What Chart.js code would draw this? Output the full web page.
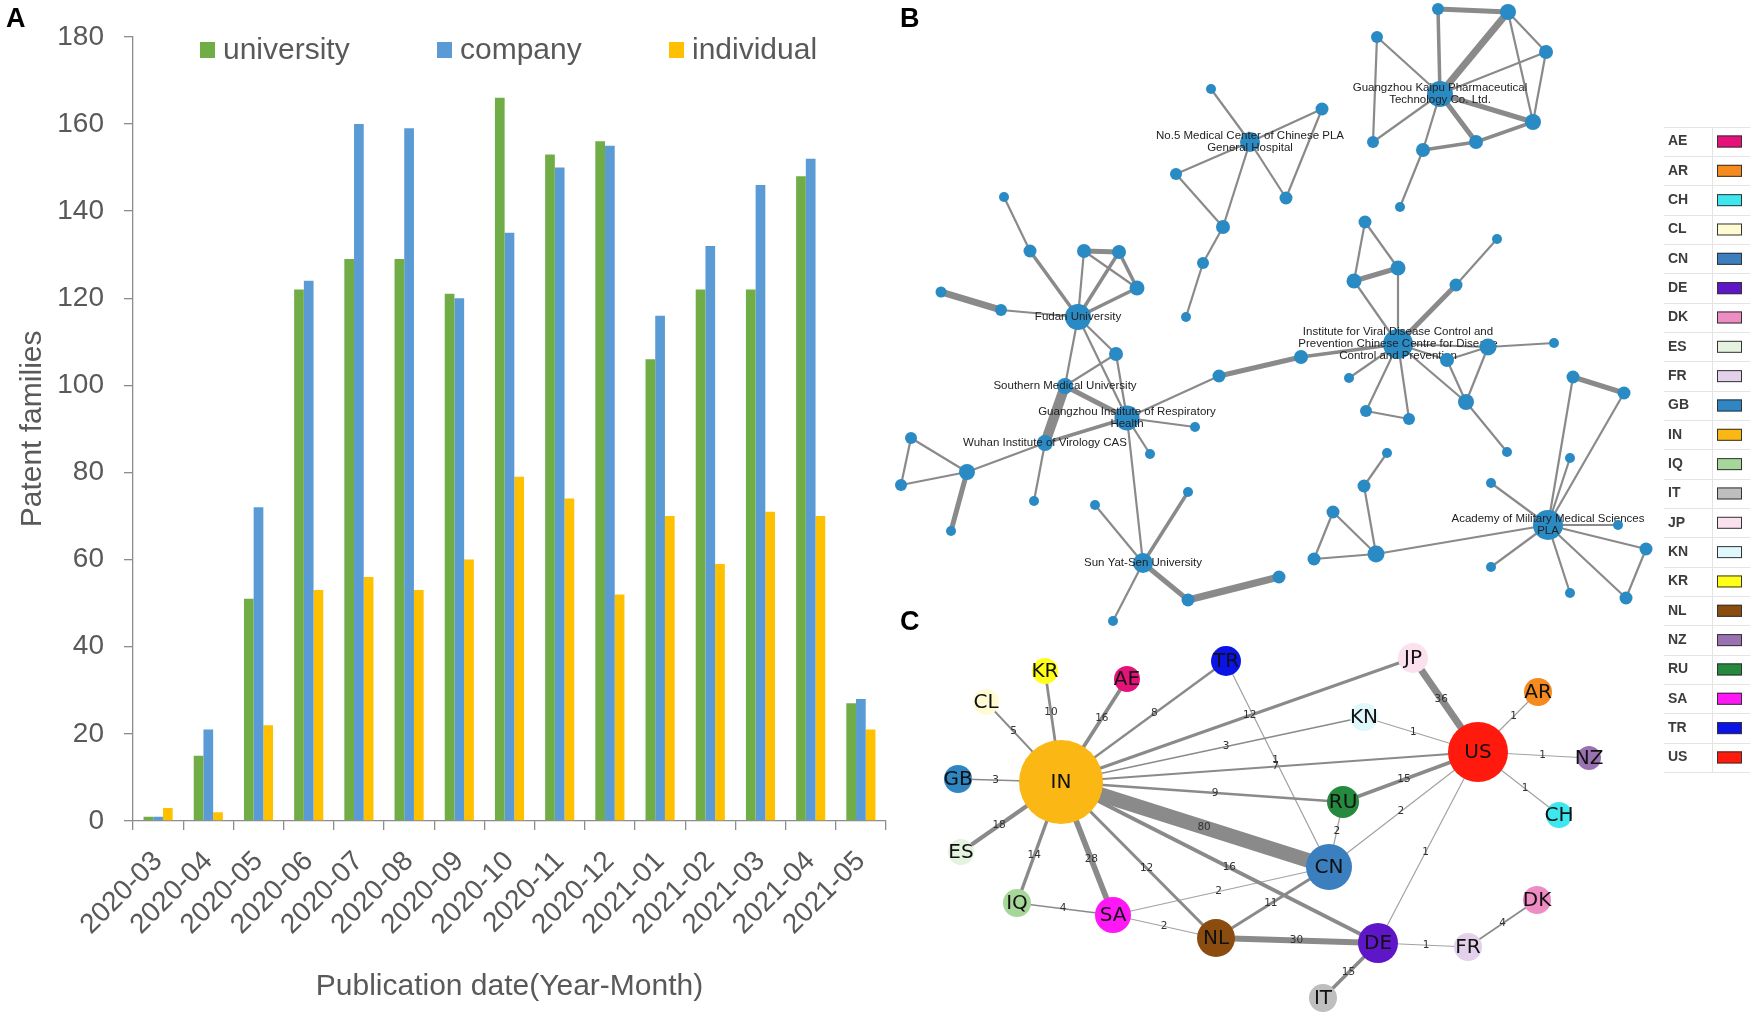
<!DOCTYPE html>
<html>
<head>
<meta charset="utf-8">
<script src="https://cdn.jsdelivr.net/npm/chart.js@4.4.1/dist/chart.umd.min.js"></script>
<style>
  html, body { margin: 0; padding: 0; background: #fff; }
  #wrap { position: relative; width: 1750px; height: 1017px; overflow: hidden; }
  #box-a { position: absolute; left: 0; top: 0; width: 900px; height: 1017px; }
  #box-bc { position: absolute; left: 880px; top: 0; width: 870px; height: 1017px; }
</style>
</head>
<body>
<div id="wrap">
  <div id="box-a"><canvas id="chart-a"></canvas></div>
  <div id="box-bc"><canvas id="chart-bc"></canvas></div>
</div>
<script>
// ---- Panel A: patent families per month ----
const months = ['2020-03','2020-04','2020-05','2020-06','2020-07','2020-08','2020-09','2020-10',
                '2020-11','2020-12','2021-01','2021-02','2021-03','2021-04','2021-05'];
const university = [1, 15, 51, 122, 129, 129, 121, 166, 153, 156, 106, 122, 122, 148, 27];
const company    = [1, 21, 72, 124, 160, 159, 120, 135, 150, 155, 116, 132, 146, 152, 28];
const individual = [3, 2, 22, 53, 56, 53, 60, 79, 74, 52, 70, 59, 71, 70, 21];

// ---- Panel B: institution co-operation network (layout units) ----
// [id, x, y, size]
const instHubs = [
  ['kaipu', 1440, 94, 13], ['no5', 1250, 142, 10], ['fudan', 1078, 317, 13],
  ['southern', 1065, 386, 8], ['gzresp', 1127, 418, 12.5], ['wuhan', 1045, 443, 8],
  ['viral', 1398, 344, 15], ['academy', 1548, 525, 15], ['sunyat', 1143, 563, 10]
];
const instNodes = [
  ['k1', 1438, 9, 6], ['k2', 1508, 12, 8], ['k3', 1546, 52, 7], ['k4', 1533, 122, 8],
  ['k5', 1476, 142, 7], ['k6', 1423, 150, 7], ['k7', 1400, 207, 5], ['k8', 1373, 142, 6], ['k9', 1377, 37, 6],
  ['n1', 1211, 89, 5], ['n2', 1322, 109, 6.5], ['n3', 1176, 174, 6], ['n4', 1286, 198, 6.5],
  ['n5', 1223, 227, 7], ['n6', 1203, 263, 6], ['n7', 1186, 317, 5],
  ['f1', 1004, 197, 5], ['f2', 1030, 251, 6.5], ['f3', 1084, 251, 7], ['f4', 1119, 252, 7],
  ['f5', 1137, 288, 7.5], ['f6', 941, 292, 5.5], ['f7', 1001, 310, 6], ['f8', 1116, 354, 7],
  ['g1', 1195, 427, 5], ['g2', 1150, 454, 5], ['w1', 1034, 501, 5], ['w2', 967, 472, 8],
  ['w3', 911, 438, 6], ['w4', 901, 485, 6], ['w5', 951, 531, 5], ['br1', 1219, 376, 6.5], ['br2', 1301, 357, 7],
  ['v1', 1365, 222, 6.5], ['v2', 1398, 268, 7.5], ['v3', 1354, 281, 7.5], ['v4', 1497, 239, 5],
  ['v5', 1456, 285, 6.5], ['v6', 1554, 343, 5], ['v7', 1488, 347, 8.5], ['v8', 1447, 360, 7],
  ['v9', 1466, 402, 8], ['v10', 1507, 452, 5], ['v11', 1349, 378, 5], ['v12', 1366, 411, 6], ['v13', 1409, 419, 6],
  ['a1', 1573, 377, 6.5], ['a2', 1624, 393, 6.5], ['a3', 1570, 458, 5], ['a4', 1491, 483, 5],
  ['a5', 1618, 525, 5], ['a6', 1646, 549, 6.5], ['a7', 1491, 567, 5], ['a8', 1570, 593, 5],
  ['a9', 1626, 598, 6.5], ['a10', 1376, 554, 8.5], ['a11', 1314, 559, 6.5], ['a12', 1333, 512, 6.5],
  ['a13', 1364, 486, 6.5], ['a14', 1387, 453, 5],
  ['s1', 1095, 505, 5], ['s2', 1188, 492, 5], ['s3', 1279, 577, 6.5], ['s4', 1188, 600, 6.5], ['s5', 1113, 621, 5]
];
// [from, to, strength 1..5]
const instEdges = [
  ['kaipu','k1',2], ['k1','k2',3], ['kaipu','k2',4], ['k2','k3',1], ['k2','k4',1], ['k3','k4',1],
  ['kaipu','k3',1], ['kaipu','k4',3], ['kaipu','k5',3], ['k5','k4',2], ['kaipu','k6',1], ['k6','k5',2],
  ['k6','k7',1], ['kaipu','k9',1], ['k9','k8',1], ['kaipu','k8',1],
  ['no5','n1',1], ['no5','n2',1], ['no5','n3',1], ['no5','n4',1], ['no5','n5',1], ['n2','n4',1],
  ['n3','n5',1], ['n5','n6',1], ['n6','n7',1],
  ['f1','f2',1], ['f2','fudan',2], ['fudan','f3',1], ['fudan','f4',2], ['fudan','f5',2], ['f3','f4',3],
  ['f3','f5',1], ['f4','f5',2], ['f6','f7',4], ['f7','fudan',1], ['fudan','southern',1], ['fudan','f8',1],
  ['fudan','gzresp',1], ['f8','southern',1], ['f8','gzresp',1], ['southern','gzresp',3], ['southern','wuhan',5],
  ['wuhan','gzresp',2], ['gzresp','br1',1], ['gzresp','g1',1], ['gzresp','g2',1], ['gzresp','sunyat',1],
  ['wuhan','w2',1], ['wuhan','w1',1], ['w2','w3',1], ['w2','w4',1], ['w3','w4',1], ['w2','w5',3],
  ['br1','br2',3], ['br2','viral',2],
  ['v1','v2',1], ['v1','v3',1], ['v2','v3',3], ['v3','viral',1], ['v2','viral',1], ['viral','v5',3],
  ['v5','v4',1], ['viral','v7',1], ['v7','v6',1], ['v7','v8',1], ['v7','v9',1], ['v8','v9',1],
  ['viral','v8',1], ['viral','v9',1], ['v9','v10',1], ['viral','v11',1], ['viral','v12',1],
  ['viral','v13',1], ['v12','v13',1],
  ['academy','a1',1], ['academy','a2',1], ['a1','a2',3], ['academy','a3',1], ['academy','a4',1],
  ['academy','a5',1], ['academy','a6',1], ['a6','a9',1], ['academy','a9',1], ['academy','a8',1],
  ['academy','a7',1], ['academy','a10',1], ['a10','a11',1], ['a10','a12',1], ['a11','a12',1],
  ['a10','a13',1], ['a13','a14',1],
  ['sunyat','s1',1], ['sunyat','s2',2], ['sunyat','s4',3], ['s4','s3',4], ['sunyat','s5',1]
];
const instLabels = {
  kaipu: ['Guangzhou Kaipu Pharmaceutical', 'Technology Co. Ltd.'],
  no5: ['No.5 Medical Center of Chinese PLA', 'General Hospital'],
  fudan: ['Fudan University'],
  southern: ['Southern Medical University'],
  gzresp: ['Guangzhou Institute of Respiratory', 'Health'],
  wuhan: ['Wuhan Institute of Virology CAS'],
  viral: ['Institute for Viral Disease Control and', 'Prevention Chinese Centre for Disease', 'Control and Prevention'],
  academy: ['Academy of Military Medical Sciences', 'PLA'],
  sunyat: ['Sun Yat-Sen University']
};

// ---- Panel C: country co-operation network ----
const countries = ['AE','AR','CH','CL','CN','DE','DK','ES','FR','GB','IN','IQ','IT','JP','KN','KR','NL','NZ','RU','SA','TR','US'];
const countryColors = ['#e6127a','#f58a1f','#3ee6ee','#fffbd2','#3b7fbf','#5e16c8','#ee8cc4','#e4f2df','#e3d0ea','#2f86c2','#fbb714',
                       '#a6d69a','#bebebe','#fbe1ee','#dff8fc','#ffff1a','#8b4c10','#9a72b2','#258a3e','#ff18f5','#0a14e6','#ff1a0d'];
// [code, x, y, size]
const countryNodes = [
  ['IN', 1061, 782, 42], ['GB', 958, 779, 14], ['ES', 961, 852, 13], ['CL', 986, 702, 13],
  ['KR', 1045, 671, 13], ['AE', 1127, 679, 13], ['TR', 1226, 661, 15], ['JP', 1413, 658, 15],
  ['KN', 1364, 717, 14], ['US', 1478, 752, 30], ['AR', 1538, 692, 14], ['NZ', 1589, 758, 12],
  ['CH', 1559, 815, 13], ['RU', 1343, 802, 16], ['CN', 1329, 867, 23], ['IQ', 1017, 903, 14],
  ['SA', 1113, 915, 18], ['NL', 1216, 938, 19], ['DE', 1378, 943, 20], ['FR', 1468, 947, 14],
  ['DK', 1537, 900, 14], ['IT', 1323, 998, 14]
];
// [from, to, co-patents]
const countryEdges = [
  ['IN','CL',5], ['IN','KR',10], ['IN','AE',16], ['IN','TR',8], ['IN','JP',12], ['IN','KN',3],
  ['IN','US',7], ['IN','RU',9], ['IN','CN',80], ['IN','DE',16], ['IN','NL',12], ['IN','SA',28],
  ['IN','IQ',14], ['IN','ES',18], ['IN','GB',3], ['TR','CN',1], ['JP','US',36], ['KN','US',1],
  ['US','AR',1], ['US','NZ',1], ['US','CH',1], ['US','RU',15], ['US','CN',2], ['US','DE',1],
  ['RU','CN',2], ['CN','SA',2], ['CN','NL',11], ['SA','IQ',4], ['SA','NL',2], ['NL','DE',30],
  ['DE','FR',1], ['FR','DK',4], ['DE','IT',15]
];

const FONT = "'Liberation Sans', Arial, sans-serif";
const TEXT = '#595959';
const AXIS = '#8c8c8c';
const INST_BLUE = '#2a8ac4';
const EDGE = '#8a8a8a';
const STRENGTH_W = [0, 2.2, 3.5, 5, 7, 10];

// Panel A overlay: panel letter and the in-plot legend
const barDecor = {
  id: 'barDecor',
  afterDraw(chart) {
    const ctx = chart.ctx;
    ctx.save();
    ctx.fillStyle = '#000';
    ctx.font = `bold 27px ${FONT}`;
    ctx.textBaseline = 'alphabetic';
    ctx.fillText('A', 6, 27);
    const slotX = [200, 437, 669];
    ctx.font = `30px ${FONT}`;
    chart.data.datasets.forEach((ds, i) => {
      ctx.fillStyle = ds.backgroundColor;
      ctx.fillRect(slotX[i], 42, 15, 16);
      ctx.fillStyle = TEXT;
      ctx.fillText(ds.label, slotX[i] + 23, 59);
    });
    ctx.restore();
  }
};

new Chart(document.getElementById('chart-a'), {
  type: 'bar',
  data: {
    labels: months,
    datasets: [
      { label: 'university', data: university, backgroundColor: '#70ad47' },
      { label: 'company', data: company, backgroundColor: '#5b9bd5' },
      { label: 'individual', data: individual, backgroundColor: '#ffc000' }
    ]
  },
  options: {
    responsive: true, maintainAspectRatio: false, animation: false, events: [],
    layout: { padding: { top: 24, right: 11, left: 0, bottom: 0 } },
    datasets: { bar: { categoryPercentage: 0.58, barPercentage: 1 } },
    plugins: { legend: { display: false }, tooltip: { enabled: false } },
    scales: {
      x: {
        grid: { drawOnChartArea: false, tickLength: 9, color: AXIS, lineWidth: 1.3 },
        border: { color: AXIS, width: 1.3 },
        ticks: { font: { family: FONT, size: 28 }, color: TEXT, minRotation: 45, maxRotation: 45, padding: 15, autoSkip: false },
        title: { display: true, text: 'Publication date(Year-Month)', font: { family: FONT, size: 30 }, color: TEXT, padding: { top: 0, bottom: 12 } },
        afterFit: s => { s.height = 196; }
      },
      y: {
        min: 0, max: 180,
        grid: { drawOnChartArea: false, tickLength: 9, color: AXIS, lineWidth: 1.3 },
        border: { color: AXIS, width: 1.3 },
        ticks: { stepSize: 20, font: { family: FONT, size: 28 }, color: TEXT, padding: 20 },
        title: { display: true, text: 'Patent families', font: { family: FONT, size: 30 }, color: TEXT, padding: { top: 15, bottom: 0 } },
        afterFit: s => { s.width = 133; }
      }
    }
  },
  plugins: [barDecor]
});

// ---- Panels B and C ----
const instById = {};
[...instHubs, ...instNodes].forEach(n => { instById[n[0]] = n; });
const countryById = {};
countryNodes.forEach(n => { countryById[n[0]] = n; });
const pt = n => ({ x: n[1], y: n[2] });
const countryWidth = w => (w <= 2 ? 1.2 : 1 + w * 0.17);

const edgeSets = [
  ...instEdges.map(([a, b, s]) => ({
    data: [pt(instById[a]), pt(instById[b])],
    showLine: true, borderColor: EDGE, borderWidth: STRENGTH_W[s], pointRadius: 0, order: 2, clip: false
  })),
  ...countryEdges.map(([a, b, w]) => ({
    data: [pt(countryById[a]), pt(countryById[b])],
    showLine: true, borderColor: w <= 2 ? '#a2a2a2' : EDGE, borderWidth: countryWidth(w), pointRadius: 0, order: 2, clip: false
  }))
];

const netDecor = {
  id: 'netDecor',
  // labels of the institutions go above their own node but below the small nodes
  afterDatasetDraw(chart, args) {
    if (chart.data.datasets[args.index].label !== 'hubs') return;
    const { ctx, scales: { x, y } } = chart;
    ctx.save();
    ctx.font = `11.5px ${FONT}`;
    ctx.fillStyle = '#222';
    ctx.textAlign = 'center';
    ctx.textBaseline = 'middle';
    instHubs.forEach(n => {
      const lines = instLabels[n[0]];
      const px = x.getPixelForValue(n[1]);
      const py = y.getPixelForValue(n[2]);
      lines.forEach((t, i) => ctx.fillText(t, px, py + (i - (lines.length - 1) / 2) * 12.3));
    });
    ctx.restore();
  },
  afterDatasetsDraw(chart) {
    const { ctx, scales: { x, y } } = chart;
    ctx.save();
    ctx.textAlign = 'center';
    ctx.textBaseline = 'middle';
    // country codes on the nodes
    ctx.font = "20px 'DejaVu Sans', sans-serif";
    ctx.fillStyle = '#111';
    countryNodes.forEach(n => ctx.fillText(n[0], x.getPixelForValue(n[1]), y.getPixelForValue(n[2]) + 1));
    // co-patent counts halfway along the visible part of each link
    ctx.font = "10.5px 'DejaVu Sans', sans-serif";
    ctx.fillStyle = '#333';
    countryEdges.forEach(([a, b, w]) => {
      const A = countryById[a], B = countryById[b];
      const dx = B[1] - A[1], dy = B[2] - A[2];
      const L = Math.hypot(dx, dy);
      const t = (A[3] + (L - A[3] - B[3]) / 2) / L;
      ctx.fillText(String(w), x.getPixelForValue(A[1] + dx * t), y.getPixelForValue(A[2] + dy * t));
    });
    // panel letters
    ctx.font = `bold 27px ${FONT}`;
    ctx.fillStyle = '#000';
    ctx.textAlign = 'left';
    ctx.textBaseline = 'alphabetic';
    ctx.fillText('B', x.getPixelForValue(900), 27);
    ctx.fillText('C', x.getPixelForValue(900), 630);
    // country colour key
    const rowY0 = 141.5, rowH = 29.33;
    const lx = x.getPixelForValue(1668), bx = x.getPixelForValue(1717);
    ctx.strokeStyle = '#e4e4e4';
    ctx.lineWidth = 1;
    ctx.beginPath();
    for (let i = 0; i <= countries.length; i++) {
      const yy = Math.round(rowY0 - rowH / 2 + i * rowH) + 0.5;
      ctx.moveTo(x.getPixelForValue(1664), yy);
      ctx.lineTo(chart.width, yy);
    }
    const vx = Math.round(x.getPixelForValue(1712)) + 0.5;
    ctx.moveTo(vx, rowY0 - rowH / 2);
    ctx.lineTo(vx, rowY0 - rowH / 2 + countries.length * rowH);
    ctx.stroke();
    ctx.font = "bold 14px 'Liberation Sans Narrow', 'Liberation Sans', sans-serif";
    ctx.textBaseline = 'middle';
    countries.forEach((c, i) => {
      const yy = rowY0 + i * rowH;
      ctx.fillStyle = '#3c3c3c';
      ctx.fillText(c, lx, yy);
      ctx.fillStyle = countryColors[i];
      ctx.fillRect(bx, yy - 6, 25, 12);
      ctx.strokeStyle = '#333';
      ctx.strokeRect(bx + 0.5, yy - 5.5, 24, 11);
    });
    ctx.restore();
  }
};

new Chart(document.getElementById('chart-bc'), {
  type: 'scatter',
  data: {
    datasets: [
      {
        label: 'nodes', data: instNodes.map(pt), pointRadius: instNodes.map(n => n[3]),
        pointBackgroundColor: INST_BLUE, pointBorderWidth: 0, order: 0, clip: false
      },
      {
        label: 'countries', data: countryNodes.map(pt), pointRadius: countryNodes.map(n => n[3]),
        pointBackgroundColor: countryNodes.map(n => countryColors[countries.indexOf(n[0])]),
        pointBorderWidth: 0, order: 0, clip: false
      },
      {
        label: 'hubs', data: instHubs.map(pt), pointRadius: instHubs.map(n => n[3]),
        pointBackgroundColor: INST_BLUE, pointBorderWidth: 0, order: 1, clip: false
      },
      ...edgeSets
    ]
  },
  options: {
    responsive: true, maintainAspectRatio: false, animation: false, events: [],
    layout: { padding: 0, autoPadding: false },
    plugins: { legend: { display: false }, tooltip: { enabled: false } },
    scales: {
      x: { type: 'linear', min: 880, max: 1750, display: false },
      y: { type: 'linear', min: 0, max: 1017, reverse: true, display: false }
    }
  },
  plugins: [netDecor]
});
</script>
</body>
</html>
